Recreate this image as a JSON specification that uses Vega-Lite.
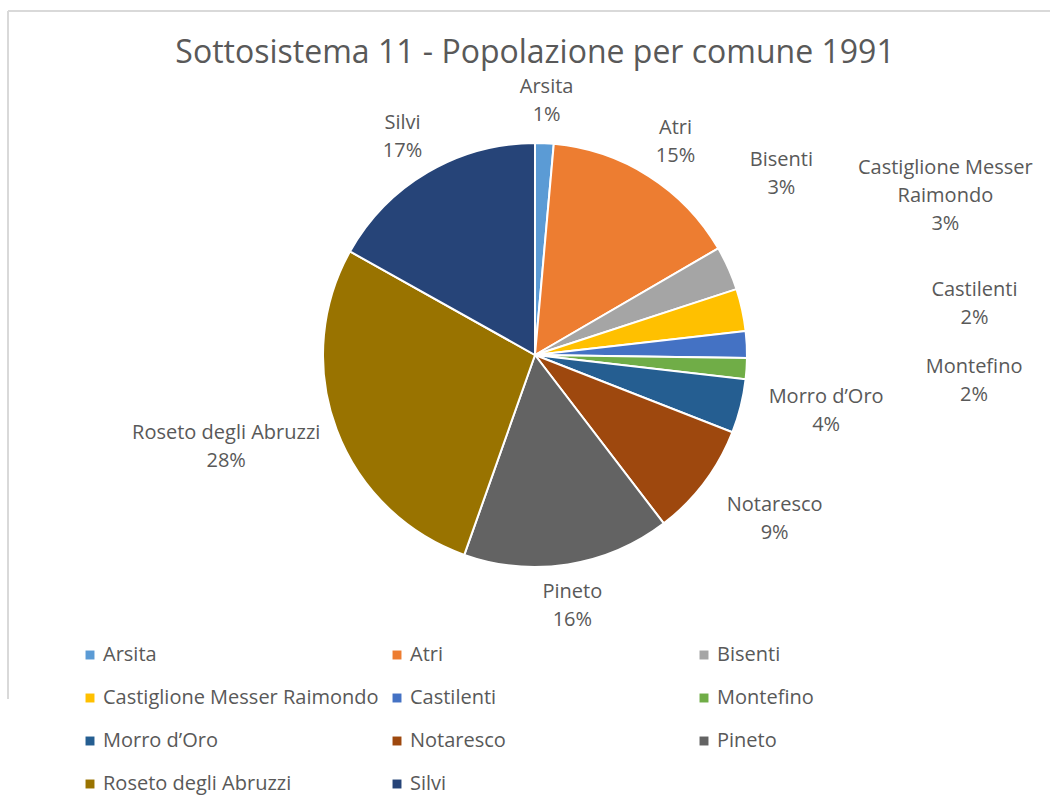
{
  "$schema": "https://vega.github.io/schema/vega-lite/v6.json",
  "autosize": "none",
  "width": 1054,
  "height": 688,
  "padding": {"left": 8, "top": 11, "right": 0, "bottom": 113},
  "background": "white",
  "view": {"stroke": "#d9d9d9", "strokeWidth": 2, "strokeDash": [1054, 1742, 688, 0]},
  "config": {
    "font": "Open Sans",
    "text": {"fontSize": 20, "color": "#595959", "lineBreak": "\n", "align": "center", "baseline": "middle", "lineHeight": 28}
  },
  "title": {
    "text": "Sottosistema 11 - Popolazione per comune 1991",
    "fontSize": 32,
    "font": "Open Sans",
    "fontWeight": "normal",
    "color": "#595959",
    "anchor": "middle",
    "frame": "group",
    "baseline": "alphabetic",
    "offset": 0,
    "dy": 84
  },
  "data": {
    "values": [
      {"name": "Arsita", "label": "Arsita", "value": 1050},
      {"name": "Atri", "label": "Atri", "value": 11300},
      {"name": "Bisenti", "label": "Bisenti", "value": 2500},
      {"name": "Castiglione Messer Raimondo", "label": "Castiglione Messer\nRaimondo", "value": 2400},
      {"name": "Castilenti", "label": "Castilenti", "value": 1500},
      {"name": "Montefino", "label": "Montefino", "value": 1200},
      {"name": "Morro d’Oro", "label": "Morro d’Oro", "value": 3050},
      {"name": "Notaresco", "label": "Notaresco", "value": 6450},
      {"name": "Pineto", "label": "Pineto", "value": 11750},
      {"name": "Roseto degli Abruzzi", "label": "Roseto degli Abruzzi", "value": 20600},
      {"name": "Silvi", "label": "Silvi", "value": 12550}
    ]
  },
  "transform": [
    {"joinaggregate": [{"op": "sum", "field": "value", "as": "total"}]},
    {"stack": "value", "groupby": [], "sort": [{"field": "name", "order": "ascending"}], "as": ["v0", "v1"]},
    {"calculate": "(datum.v0 + datum.v1) / 2", "as": "vmid"},
    {"calculate": "datum.label + '\\n' + format(datum.value / datum.total, '.0%')", "as": "txt"}
  ],
  "layer": [
    {
      "mark": {"type": "arc", "outerRadius": 212, "stroke": "white", "strokeWidth": 2},
      "encoding": {
        "theta": {"field": "v1", "type": "quantitative", "scale": {"zero": true}},
        "theta2": {"field": "v0"},
        "color": {
          "field": "name",
          "type": "nominal",
          "scale": {
            "domain": ["Arsita", "Atri", "Bisenti", "Castiglione Messer Raimondo", "Castilenti", "Montefino", "Morro d’Oro", "Notaresco", "Pineto", "Roseto degli Abruzzi", "Silvi"],
            "range": ["#5B9BD5", "#ED7D31", "#A5A5A5", "#FFC000", "#4472C4", "#70AD47", "#255E91", "#9E480E", "#636363", "#997300", "#264478"]
          },
          "legend": {
            "title": null,
            "orient": "none",
            "legendX": 72,
            "legendY": 634,
            "direction": "horizontal",
            "columns": 3,
            "gridAlign": "all",
            "columnPadding": 8,
            "rowPadding": 23,
            "symbolType": "square",
            "symbolSize": 80,
            "symbolStrokeWidth": 0,
            "labelFontSize": 20,
            "labelColor": "#595959",
            "labelFont": "Open Sans",
            "labelOffset": 3,
            "labelLimit": 400,
            "padding": 0
          }
        }
      }
    },
    {
      "transform": [{"filter": "indexof(['Arsita','Atri','Silvi'], datum.name) >= 0"}],
      "mark": {"type": "text", "radius": 262, "dy": -6},
      "encoding": {"theta": {"field": "vmid", "type": "quantitative"}, "text": {"field": "txt"}}
    },
    {
      "transform": [{"filter": "datum.name == 'Pineto'"}],
      "mark": {"type": "text", "radius": 240},
      "encoding": {"theta": {"field": "vmid", "type": "quantitative"}, "text": {"field": "txt"}}
    },
    {
      "transform": [{"filter": "datum.name == 'Bisenti'"}],
      "mark": {"type": "text", "radius": 270, "dy": -85},
      "encoding": {"theta": {"field": "vmid", "type": "quantitative"}, "text": {"field": "txt"}}
    },
    {
      "transform": [{"filter": "indexof(['Morro d’Oro','Notaresco'], datum.name) >= 0"}],
      "mark": {"type": "text", "radius": 300, "dy": -30},
      "encoding": {"theta": {"field": "vmid", "type": "quantitative"}, "text": {"field": "txt"}}
    },
    {
      "transform": [{"filter": "datum.name == 'Roseto degli Abruzzi'"}],
      "mark": {"type": "text", "radius": 330, "dy": -38},
      "encoding": {"theta": {"field": "vmid", "type": "quantitative"}, "text": {"field": "txt"}}
    },
    {
      "transform": [{"filter": "datum.name == 'Castiglione Messer Raimondo'"}],
      "mark": {"type": "text", "radius": 420, "dy": -98},
      "encoding": {"theta": {"field": "vmid", "type": "quantitative"}, "text": {"field": "txt"}}
    },
    {
      "transform": [{"filter": "datum.name == 'Castilenti'"}],
      "mark": {"type": "text", "radius": 440, "dy": -43},
      "encoding": {"theta": {"field": "vmid", "type": "quantitative"}, "text": {"field": "txt"}}
    },
    {
      "transform": [{"filter": "datum.name == 'Montefino'"}],
      "mark": {"type": "text", "radius": 440, "dy": -16},
      "encoding": {"theta": {"field": "vmid", "type": "quantitative"}, "text": {"field": "txt"}}
    }
  ]
}
